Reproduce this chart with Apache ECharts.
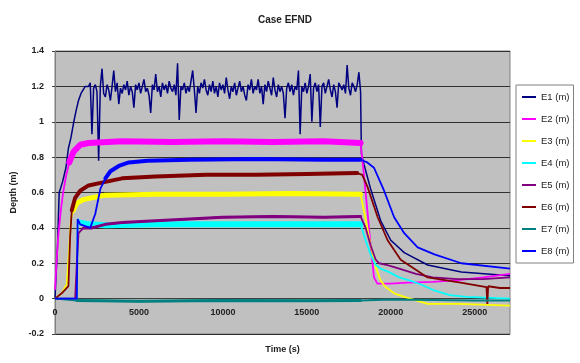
<!DOCTYPE html>
<html>
<head>
<meta charset="utf-8">
<title>Case EFND</title>
<script src="https://cdn.jsdelivr.net/npm/echarts@6.0.0/dist/echarts.min.js"></script>
<style>
  html, body { margin: 0; padding: 0; background: #fff; }
  #chart { width: 580px; height: 363px; }
</style>
</head>
<body>
<div id="chart"></div>
<script>
// depth readings [time (s), depth (m)]
const e1Rise = [[0, 0.0], [150, 0.3], [250, 0.6], [450, 0.66], [650, 0.74], [800, 0.85], [950, 0.91],
  [1100, 0.99], [1250, 1.06], [1400, 1.12], [1550, 1.16], [1800, 1.2]]
// noisy plateau of E1, one reading every 100 s from 2000 s to 18200 s
const e1NoiseStart = 2000
const e1NoiseStep = 100
const e1Noise = [
  1.2, 1.22, 0.93, 1.19, 1.21, 1.17, 0.78, 1.2, 1.3, 1.16,
  1.14, 1.21, 1.18, 1.12, 1.2, 1.29, 1.17, 1.22, 1.1, 1.19,
  1.16, 1.21, 1.18, 1.23, 1.15, 1.2, 1.17, 1.08, 1.21, 1.18,
  1.22, 1.16, 1.2, 1.24, 1.17, 1.19, 1.15, 1.05, 1.21, 1.18,
  1.27, 1.17, 1.2, 1.14, 1.22, 1.18, 1.21, 1.16, 1.23, 1.19,
  1.17, 1.21, 1.15, 1.33, 1.01, 1.2, 1.18, 1.22, 1.16, 1.2,
  1.17, 1.23, 1.29, 1.18, 1.05, 1.2, 1.16, 1.22, 1.19, 1.24,
  1.18, 1.15, 1.21, 1.17, 1.23, 1.16, 1.2, 1.14, 1.22, 1.18,
  1.21, 1.16, 1.25, 1.18, 1.13, 1.2, 1.17, 1.22, 1.15, 1.19,
  1.23, 1.17, 1.2, 1.15, 1.12, 1.21, 1.18, 1.24, 1.16, 1.2,
  1.18, 1.24, 1.16, 1.2, 1.1, 1.21, 1.17, 1.23, 1.19, 1.15,
  1.25, 1.18, 1.14, 1.21, 1.17, 1.2, 1.16, 1.02, 1.19, 1.22,
  1.17, 1.21, 1.15, 1.2, 1.18, 1.29, 0.93, 1.2, 1.17, 1.22,
  1.16, 1.2, 1.27, 1.0, 1.19, 1.22, 1.17, 1.21, 0.97, 1.2,
  1.22, 1.16, 1.2, 1.24, 1.18, 1.14, 1.21, 1.17, 1.08, 1.22,
  1.23, 1.18, 1.21, 1.16, 1.32, 1.19, 1.15, 1.22, 1.2, 1.17,
  1.21, 1.28, 1.17]
const e1Fall = [[18250, 0.82], [18400, 0.76], [18800, 0.62], [19400, 0.44], [20000, 0.33], [20800, 0.26],
  [22200, 0.19], [24200, 0.15], [27100, 0.13]]

const e2 = [[0, 0.05], [100, 0.22], [200, 0.36], [350, 0.5], [500, 0.61], [650, 0.69], [850, 0.77],
  [1100, 0.83], [1500, 0.87], [2000, 0.88], [4000, 0.89], [7000, 0.885], [10000, 0.89], [13000, 0.885],
  [16000, 0.89], [18200, 0.88], [18400, 0.7], [18600, 0.5], [18800, 0.3], [19000, 0.12], [19200, 0.085],
  [20000, 0.085], [21000, 0.09], [22500, 0.095], [24000, 0.105], [25500, 0.12], [27100, 0.14]]

const e3 = [[0, 0.0], [400, 0.03], [700, 0.08], [850, 0.3], [950, 0.45], [1100, 0.5], [1300, 0.54],
  [1700, 0.56], [2200, 0.57], [3000, 0.585], [6000, 0.59], [10000, 0.59], [14000, 0.595], [18200, 0.59],
  [18500, 0.45], [18800, 0.3], [19100, 0.18], [19400, 0.1], [19700, 0.065], [20200, 0.03], [20800, 0.01],
  [21500, -0.01], [22200, -0.03], [24000, -0.03], [27100, -0.04]]

const e4 = [[0, 0.0], [1300, 0.0], [1350, 0.45], [1500, 0.43], [2000, 0.42], [3000, 0.415], [6000, 0.42],
  [10000, 0.42], [14000, 0.42], [18200, 0.42], [18500, 0.33], [18800, 0.25], [19100, 0.19], [19400, 0.17],
  [19900, 0.15], [20500, 0.12], [21200, 0.1], [21800, 0.08], [22500, 0.05], [23500, 0.02], [24500, 0.01],
  [27100, 0.0]]

const e5 = [[0, 0.0], [1200, 0.0], [1300, 0.2], [1400, 0.37], [1700, 0.4], [2200, 0.4], [3000, 0.42],
  [4000, 0.43], [6000, 0.44], [8000, 0.45], [10000, 0.46], [13000, 0.465], [16000, 0.46], [18200, 0.465],
  [18500, 0.4], [18800, 0.3], [19100, 0.22], [19300, 0.2], [19800, 0.19], [20500, 0.17], [21500, 0.14],
  [22500, 0.12], [24000, 0.11], [25500, 0.11], [27100, 0.12]]

const e6 = [[0, 0.0], [400, 0.03], [800, 0.07], [900, 0.35], [1000, 0.5], [1200, 0.57], [1500, 0.61],
  [2000, 0.64], [3000, 0.66], [4000, 0.68], [6000, 0.69], [9000, 0.7], [12000, 0.7], [15000, 0.705],
  [18000, 0.71], [18300, 0.7], [18620, 0.63], [19220, 0.46], [19810, 0.33], [20590, 0.22], [22190, 0.12],
  [24160, 0.09], [25700, 0.065], [25750, -0.03], [25800, 0.07], [26500, 0.06], [27100, 0.06]]

const e7 = [[0, 0.0], [1300, -0.01], [5000, -0.015], [10000, -0.01], [15000, -0.012], [18200, -0.01],
  [20000, -0.005], [25000, -0.01], [27100, -0.01]]

const e8 = [[0, 0.0], [1300, 0.0], [1350, 0.45], [1500, 0.42], [2100, 0.4], [2400, 0.48], [2700, 0.62],
  [3000, 0.68], [3300, 0.72], [3800, 0.75], [4400, 0.77], [5500, 0.78], [8000, 0.785], [12000, 0.79],
  [16000, 0.785], [18200, 0.785], [18600, 0.77], [19000, 0.74], [19600, 0.61], [20200, 0.46], [20800, 0.37],
  [21600, 0.29], [22600, 0.25], [24200, 0.2], [27100, 0.17]]

const names = ['E1 (m)', 'E2 (m)', 'E3 (m)', 'E4 (m)', 'E5 (m)', 'E6 (m)', 'E7 (m)', 'E8 (m)']
const colors = ['#000080', '#ff00ff', '#ffff00', '#00ffff', '#800080', '#800000', '#008080', '#0000ff']
// thin line everywhere, plus a thicker stroke over the noisy steady part of each gauge
const lineWidths = [1.5, 1.8, 1.8, 1.8, 1.8, 1.8, 2, 1.8]
const bandWidths = [0, 6, 5, 6, 3, 4, 3, 4]
const bandFrom = [0, 850, 1100, 1500, 1700, 1000, 1300, 3000]
const bandTo = 18200

const e1 = e1Rise
  .concat(e1Noise.map((v, i) => [e1NoiseStart + i * e1NoiseStep, v]))
  .concat(e1Fall)
const seriesData = [e1, e2, e3, e4, e5, e6, e7, e8]

const series = []
seriesData.forEach((d, i) => {
  series.push({
    name: names[i],
    type: 'line',
    data: d,
    symbol: 'none',
    z: 2 + i,
    lineStyle: { width: lineWidths[i], color: colors[i] },
    itemStyle: { color: colors[i] }
  })
  if (bandWidths[i]) {
    series.push({
      name: names[i],
      type: 'line',
      data: d.filter(p => p[0] >= bandFrom[i] && p[0] <= bandTo),
      symbol: 'none',
      z: 2 + i,
      lineStyle: { width: bandWidths[i], color: colors[i], cap: 'round' },
      itemStyle: { color: colors[i] }
    })
  }
})

const labelFont = { fontSize: 9, fontWeight: 'bold', color: '#222', fontFamily: 'Liberation Sans' }

// plot box: 55..510 px across, 51..334 px down; the time axis sits on depth 0
const gridTop = 51
const gridBottom = 29
const chartHeight = 363
const yMin = -0.2
const yMax = 1.4
const plotH = chartHeight - gridTop - gridBottom
const zeroLift = plotH * (0 - yMin) / (yMax - yMin)

const chart = echarts.init(document.getElementById('chart'))
chart.setOption({
  animation: false,
  title: {
    text: 'Case EFND',
    left: 253,
    top: 10,
    textStyle: { fontSize: 10, fontWeight: 'bold', color: '#222', fontFamily: 'Liberation Sans' }
  },
  legend: {
    orient: 'vertical',
    left: 516,
    top: 85,
    padding: [6, 4, 6, 6],
    itemGap: 10,
    itemWidth: 14,
    itemHeight: 2,
    icon: 'rect',
    backgroundColor: '#fff',
    borderColor: '#808080',
    borderWidth: 1,
    textStyle: { fontSize: 9.5, lineHeight: 12, color: '#222', fontFamily: 'Liberation Sans' },
    data: names
  },
  grid: {
    show: true,
    left: 55,
    right: 70,
    top: gridTop,
    bottom: gridBottom,
    outerBoundsMode: 'none',
    containLabel: false,
    backgroundColor: '#c0c0c0',
    borderColor: '#808080',
    borderWidth: 1
  },
  xAxis: {
    type: 'value',
    min: 0,
    max: 27100,
    interval: 5000,
    position: 'bottom',
    offset: -zeroLift,
    name: 'Time (s)',
    nameLocation: 'middle',
    nameGap: 46,
    nameTextStyle: labelFont,
    axisLine: { onZero: false, lineStyle: { color: '#404040', width: 1 } },
    axisTick: { show: false },
    axisLabel: Object.assign({ margin: 9, showMaxLabel: false, formatter: v => String(v) }, labelFont),
    splitLine: { show: false }
  },
  yAxis: {
    type: 'value',
    min: yMin,
    max: yMax,
    interval: 0.2,
    name: 'Depth (m)',
    nameLocation: 'middle',
    nameGap: 20,
    nameTextStyle: labelFont,
    axisLine: { show: true, lineStyle: { color: '#808080' } },
    axisTick: { show: true, length: 3, lineStyle: { color: '#404040' } },
    axisLabel: Object.assign({ margin: 11 }, labelFont),
    splitLine: { show: true, lineStyle: { color: '#303030', width: 1 } }
  },
  series: series
})
</script>
</body>
</html>
